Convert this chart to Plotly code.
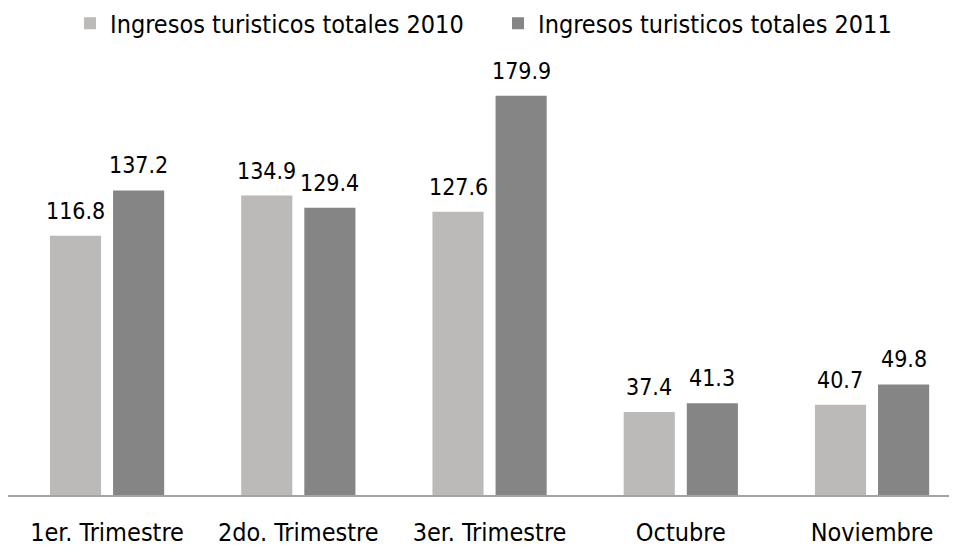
import plotly.graph_objects as go

categories = ["1er. Trimestre", "2do. Trimestre", "3er. Trimestre", "Octubre", "Noviembre"]
series_2010 = [116.8, 134.9, 127.6, 37.4, 40.7]
series_2011 = [137.2, 129.4, 179.9, 41.3, 49.8]
name_2010 = "Ingresos turisticos totales 2010"
name_2011 = "Ingresos turisticos totales 2011"

COND = "DejaVu Sans Condensed, DejaVu Sans"
num_font = dict(family=COND, size=23, color="#000000")

bargap = 0.34
bargroupgap = 0.19
x_range = [-0.518, 4.486]
plot_w = 957
cat_px = plot_w / (x_range[1] - x_range[0])
slot_px = cat_px * (1 - bargap) / 2
shift = slot_px / 2

fig = go.Figure()
fig.add_trace(go.Bar(
    x=categories, y=series_2010, name=name_2010,
    marker=dict(color="#bcb9b9", line=dict(width=0)),
))
fig.add_trace(go.Bar(
    x=categories, y=series_2011, name=name_2011,
    marker=dict(color="#858585", line=dict(width=0)),
))

for vals, dx in ((series_2010, -shift), (series_2011, shift)):
    for c, v in zip(categories, vals):
        fig.add_annotation(x=c, y=v, xref="x", yref="y", text=f"{v:.1f}",
                           showarrow=False, xshift=dx, yshift=10, yanchor="bottom",
                           font=num_font)

fig.update_layout(
    width=957, height=550,
    margin=dict(l=0, r=0, t=0, b=63, autoexpand=False),
    paper_bgcolor="white", plot_bgcolor="white",
    barmode="group", bargap=bargap, bargroupgap=bargroupgap,
    showlegend=True,
    legend=dict(orientation="h", x=0.0648, xanchor="left", y=0.968,
                yanchor="middle", bgcolor="rgba(0,0,0,0)",
                font=dict(family=COND, size=25, color="#000000"),
                itemwidth=30, entrywidth=383, traceorder="normal"),
)
fig.update_xaxes(
    range=x_range, automargin=False,
    showline=True, linecolor="#a3a3a3", linewidth=2,
    showgrid=False, ticks="", ticklabelstandoff=14,
    tickfont=dict(family=COND, size=25, color="#000000"),
)
fig.update_yaxes(range=[0, 219.4], visible=False, showgrid=False, zeroline=False)

fig.write_html("out.html")
